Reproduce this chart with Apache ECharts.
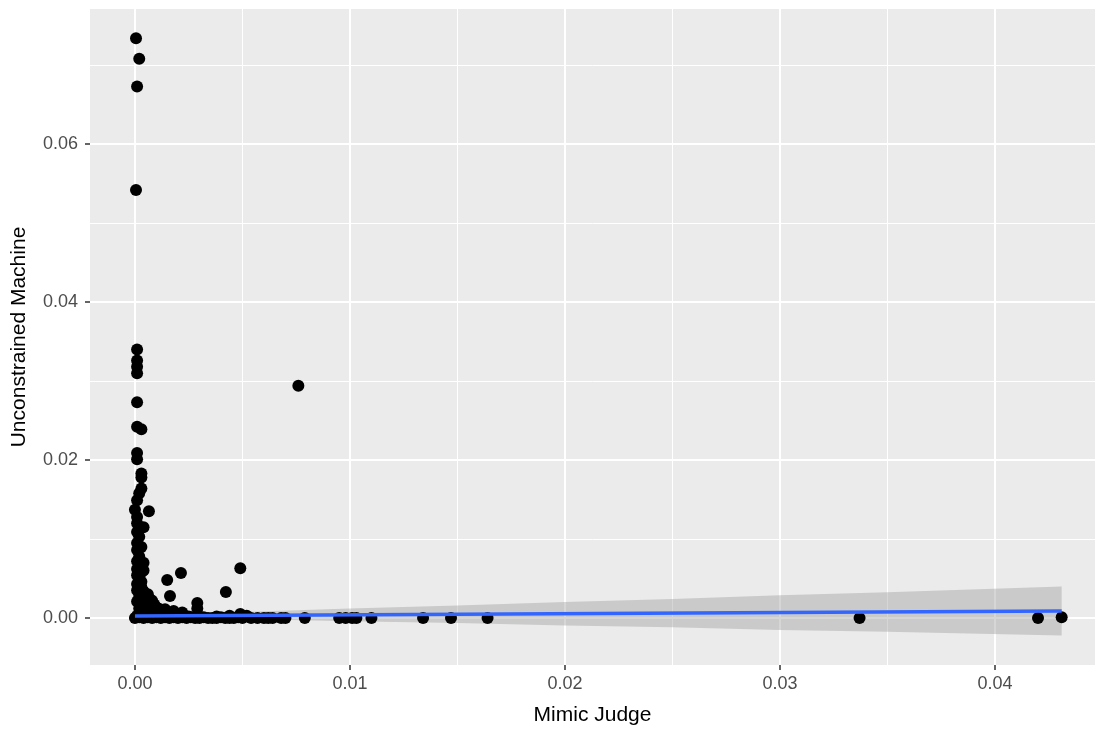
<!DOCTYPE html>
<html>
<head>
<meta charset="utf-8">
<title>Mimic Judge vs Unconstrained Machine</title>
<script src="https://cdn.jsdelivr.net/npm/echarts@6/dist/echarts.min.js"></script>
<style>
  html, body { margin: 0; padding: 0; background: #fff; }
  #chart { width: 1097px; height: 732px; }
</style>
</head>
<body>
<div id="chart"></div>
<script>
// tick labels
const xTicks = [0, 0.01, 0.02, 0.03, 0.04]
const xMinorTicks = [0.005, 0.015, 0.025, 0.035]
const yTicks = [0, 0.02, 0.04, 0.06]
const yMinorTicks = [0.01, 0.03, 0.05, 0.07]

// points, [Mimic Judge, Unconstrained Machine]
const topPoints = [
  [0.00005, 0.0734], [0.0002, 0.0708], [0.0001, 0.0673], [0.00005, 0.0542]
]
const columnPoints = [
  [0.0001, 0.0340], [0.0001, 0.0326], [0.0001, 0.0318], [0.0001, 0.0310],
  [0.0001, 0.0273], [0.0001, 0.0242], [0.0003, 0.0239], [0.0001, 0.0209],
  [0.0001, 0.0201], [0.0003, 0.0183], [0.0003, 0.0178], [0.0003, 0.0164],
  [0.0002, 0.0158], [0.0001, 0.0149], [0.00065, 0.0135], [0.0000, 0.0137],
  [0.0001, 0.0128], [0.0001, 0.0120], [0.0004, 0.0115], [0.0001, 0.0109],
  [0.0002, 0.0103], [0.0001, 0.0095], [0.0003, 0.0090], [0.0001, 0.0086],
  [0.0002, 0.0078], [0.0001, 0.0072], [0.0004, 0.0070], [0.0002, 0.0067],
  [0.0001, 0.0062], [0.0004, 0.0060], [0.0003, 0.0058], [0.0001, 0.0054],
  [0.0002, 0.0050], [0.0003, 0.0046], [0.0001, 0.0043], [0.0003, 0.0039]
]
const clusterPoints = [
  [0.0001, 0.0035], [0.0004, 0.0034], [0.0006, 0.0030], [0.0002, 0.0028],
  [0.0005, 0.0025], [0.0008, 0.0022], [0.0001, 0.0021], [0.0004, 0.0019],
  [0.0009, 0.0017], [0.0006, 0.0014], [0.0011, 0.0012], [0.0002, 0.0012],
  [0.0014, 0.0011], [0.0008, 0.0009], [0.0018, 0.0009], [0.0013, 0.0008],
  [0.0022, 0.0007], [0.0004, 0.0007], [0.0016, 0.0005], [0.0010, 0.0004],
  [0.0001, 0.0003], [0.0020, 0.0003], [0.0025, 0.0002], [0.0030, 0.0002],
  [0.0038, 0.0002], [0.0044, 0.0003], [0.0049, 0.0005], [0.0052, 0.0003]
]
const loosePoints = [
  [0.0076, 0.0294], [0.0049, 0.0063], [0.00214, 0.0057], [0.0015, 0.0048],
  [0.00423, 0.0033], [0.00163, 0.0028], [0.0029, 0.0019], [0.0029, 0.0012]
]
const floorPoints = [
  [0.0000, 0.0000], [0.0002, 0.0001], [0.0004, 0.0000], [0.0006, 0.0001],
  [0.0008, 0.0000], [0.0010, 0.0001], [0.0012, 0.0000], [0.0014, 0.0001],
  [0.0016, 0.0000], [0.0018, 0.0001], [0.0020, 0.0000], [0.0022, 0.0001],
  [0.0024, 0.0000], [0.0026, 0.0001], [0.0028, 0.0000], [0.0030, 0.0000],
  [0.0032, 0.0001], [0.0034, 0.0000], [0.0036, 0.0000], [0.0038, 0.0000],
  [0.0040, 0.0001], [0.0042, 0.0000], [0.0044, 0.0000], [0.0046, 0.0000],
  [0.0048, 0.0001], [0.0050, 0.0000], [0.0054, 0.0000], [0.0057, 0.0000],
  [0.0060, 0.0000], [0.0062, 0.0000], [0.0064, 0.0000], [0.0068, 0.0000],
  [0.0070, 0.0000], [0.0079, 0.0000], [0.0095, 0.0000], [0.0098, 0.0000],
  [0.0101, 0.0000], [0.0103, 0.0000], [0.0110, 0.0000], [0.0134, 0.0000],
  [0.0147, 0.0000], [0.0164, 0.0000], [0.0337, 0.0000], [0.0420, 0.0000],
  [0.0431, 0.0001]
]

// smoothing line and its confidence band
const fitX = [0, 0.0431]
const fitY = [0.00024, 0.00089]
const bandX = [0, 0.005, 0.01, 0.015, 0.02, 0.025, 0.03, 0.035, 0.0431]
const bandLower = [0.00004, -0.00013, -0.00041, -0.00063, -0.00096, -0.00118, -0.00151, -0.00173, -0.00221]
const bandUpper = [0.00044, 0.00077, 0.00119, 0.00157, 0.00204, 0.00242, 0.00289, 0.00327, 0.00399]

const allPoints = [].concat(topPoints, columnPoints, clusterPoints, loosePoints, floorPoints)

const chart = echarts.init(document.getElementById('chart'), null, { renderer: 'canvas' })

const fontFamily = '"Liberation Sans", Arial, sans-serif'
const xRange = { min: -0.00209, max: 0.04465 }
const yRange = { min: -0.00595, max: 0.0771 }

const option = {
  animation: false,
  backgroundColor: '#ffffff',
  grid: {
    left: 90,
    right: 2,
    top: 9,
    bottom: 67,
    show: true,
    backgroundColor: '#EBEBEB',
    borderWidth: 0
  },
  xAxis: [
    {
      type: 'value',
      min: xRange.min,
      max: xRange.max,
      name: 'Mimic Judge',
      nameLocation: 'middle',
      nameGap: 40,
      nameTextStyle: { fontFamily: fontFamily, fontSize: 21, color: '#000' },
      axisLine: { show: false, onZero: false },
      axisTick: { show: true, customValues: xTicks, length: 5, lineStyle: { color: '#333', width: 1.5 } },
      axisLabel: {
        customValues: xTicks,
        margin: 10,
        fontFamily: fontFamily,
        fontSize: 18,
        color: '#4D4D4D',
        formatter: v => v.toFixed(2)
      },
      splitLine: { show: true, lineStyle: { color: '#ffffff', width: 2 } }
    },
    {
      // minor grid lines only
      type: 'value',
      position: 'bottom',
      min: xRange.min,
      max: xRange.max,
      axisLine: { show: false, onZero: false },
      axisTick: { show: false, customValues: xMinorTicks },
      axisLabel: { show: false, customValues: xMinorTicks },
      splitLine: { show: true, lineStyle: { color: '#ffffff', width: 1 } }
    }
  ],
  yAxis: [
    {
      type: 'value',
      min: yRange.min,
      max: yRange.max,
      name: 'Unconstrained Machine',
      nameLocation: 'middle',
      nameGap: 60,
      nameTextStyle: { fontFamily: fontFamily, fontSize: 21, color: '#000' },
      axisLine: { show: false, onZero: false },
      axisTick: { show: true, customValues: yTicks, length: 5, lineStyle: { color: '#333', width: 1.5 } },
      axisLabel: {
        customValues: yTicks,
        margin: 12,
        fontFamily: fontFamily,
        fontSize: 18,
        color: '#4D4D4D',
        formatter: v => v.toFixed(2)
      },
      splitLine: { show: true, lineStyle: { color: '#ffffff', width: 2 } }
    },
    {
      type: 'value',
      position: 'left',
      min: yRange.min,
      max: yRange.max,
      axisLine: { show: false, onZero: false },
      axisTick: { show: false, customValues: yMinorTicks },
      axisLabel: { show: false, customValues: yMinorTicks },
      splitLine: { show: true, lineStyle: { color: '#ffffff', width: 1 } }
    }
  ],
  series: [
    {
      name: 'points',
      type: 'scatter',
      xAxisIndex: 0,
      yAxisIndex: 0,
      symbol: 'circle',
      symbolSize: 12,
      itemStyle: { color: '#000000', opacity: 1 },
      data: allPoints
    },
    {
      name: 'band',
      type: 'custom',
      xAxisIndex: 0,
      yAxisIndex: 0,
      silent: true,
      data: [[0, 0]],
      renderItem: function (params, api) {
        const pts = []
        for (let i = 0; i < bandX.length; i++) {
          pts.push(api.coord([bandX[i], bandUpper[i]]))
        }
        for (let i = bandX.length - 1; i >= 0; i--) {
          pts.push(api.coord([bandX[i], bandLower[i]]))
        }
        return {
          type: 'polygon',
          shape: { points: pts },
          style: { fill: '#999999', opacity: 0.4 }
        }
      }
    },
    {
      name: 'fit',
      type: 'line',
      xAxisIndex: 0,
      yAxisIndex: 0,
      showSymbol: false,
      silent: true,
      lineStyle: { color: '#3366FF', width: 3.5 },
      data: fitX.map((x, i) => [x, fitY[i]])
    }
  ]
}

chart.setOption(option)
</script>
</body>
</html>
